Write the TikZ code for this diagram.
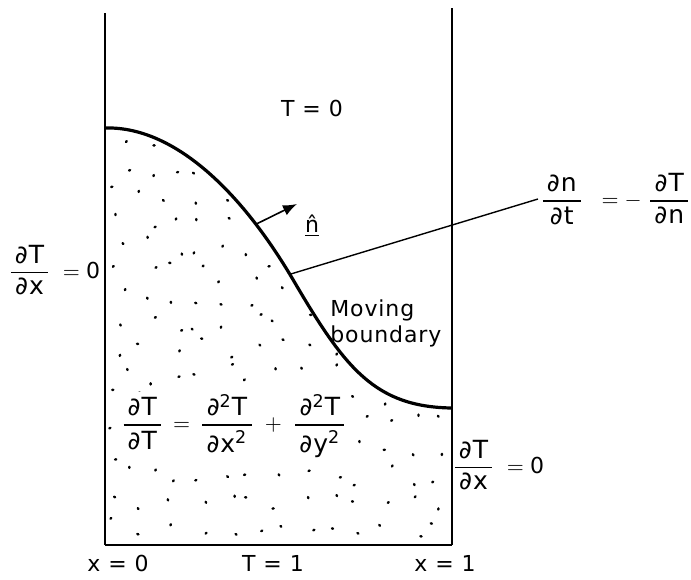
\documentclass[tikz,border=0pt]{standalone}
\usepackage{amsmath}
\usepackage{fontspec}
\setmainfont{DejaVu Sans}[LetterSpace=4]
\usepackage{tikz}
\usetikzlibrary{arrows.meta}

\newcommand{\fracfont}{\fontsize{12.5}{14}\selectfont}
\newcommand{\pfr}[2]{\genfrac{}{}{0.8pt}{0}{\text{\fracfont\,#1\,}}{\text{\fracfont\,#2\,}}}
\newcommand{\sqd}{$^{\text{2}}$}

\begin{document}
\begin{tikzpicture}[
    x=0.5pt, y=-0.5pt,
    every node/.style={font=\fontsize{11}{13}\selectfont},
    wall/.style={line width=0.6pt},
    floorline/.style={line width=1.1pt},
    front/.style={line width=1.6pt},
    label/.style={inner sep=1pt},
    speck/.style={line width=1.2pt, line cap=round},
    arrow/.style={-{Latex[length=7pt,width=5.5pt]}, line width=0.8pt},
    leader/.style={line width=0.7pt}
]
    \useasboundingbox (0,0) rectangle (691,579);

    % stippled solid region
    \begin{scope}
        \clip (105,128) .. controls (170,126) and (235,185) .. (295,285)
              .. controls (345,370) and (375,407) .. (452,408)
              -- (452,545) -- (105,545) -- cycle;
        \pgfmathsetseed{17}
        \foreach \i in {0,...,12} {
            \foreach \j in {0,...,15} {
                \pgfmathsetmacro{\dx}{110+26.5*\i+20*rnd}
                \pgfmathsetmacro{\dy}{134+25.5*\j+20*rnd}
                \pgfmathsetmacro{\ang}{360*rnd}
                \draw[speck] (\dx,\dy) -- ++(\ang:0.6pt);
            }
        }
    \end{scope}

    % container
    \coordinate (tl) at (105,13);
    \coordinate (bl) at (105,545);
    \coordinate (tr) at (452,8);
    \coordinate (br) at (452,545);
    \draw[wall] (tl) -- (bl);
    \draw[wall] (tr) -- (br);
    \draw[floorline] (bl) -- (br);

    % moving boundary
    \draw[front] (105,128) .. controls (170,126) and (238,185) ..
        coordinate[pos=0.78] (nbase) coordinate[pos=0.97] (lbase) (295,283)
        .. controls (345,368) and (375,407) .. (452,408);
    \coordinate (ntip) at (297,204);
    \draw[arrow] (nbase) -- (ntip);

    % labels
    \node[label] (tzero) at (312,108) {T = 0};
    \node[label] (nhat) at (312,226) {\underline{n̂}};
    \node[label, anchor=west] (speed) at (538,199)
        {$\pfr{∂n}{∂t}\;\;=-\;\pfr{∂T}{∂n}$};
    \draw[leader] (lbase) -- (speed.west);
    \node[label, anchor=west, align=left] (movb) at (328,323) {Moving\\boundary};
    \node[label, anchor=west] (leftbc) at (6,270) {$\pfr{∂T}{∂x}\;=\text{0}$};
    \node[label, anchor=west] (rightbc) at (450,465) {$\pfr{∂T}{∂x}\;=\text{0}$};
    \node[label, fill=white] (heat) at (234,426)
        {$\pfr{∂T}{∂T}\,=\,\pfr{∂\sqd T}{∂x\sqd}\;+\;\pfr{∂\sqd T}{∂y\sqd}$};
    \node[label] (xzero) at (118,563) {x = 0};
    \node[label] (tone) at (273,563) {T = 1};
    \node[label] (xone) at (445,563) {x = 1};
\end{tikzpicture}
\end{document}
